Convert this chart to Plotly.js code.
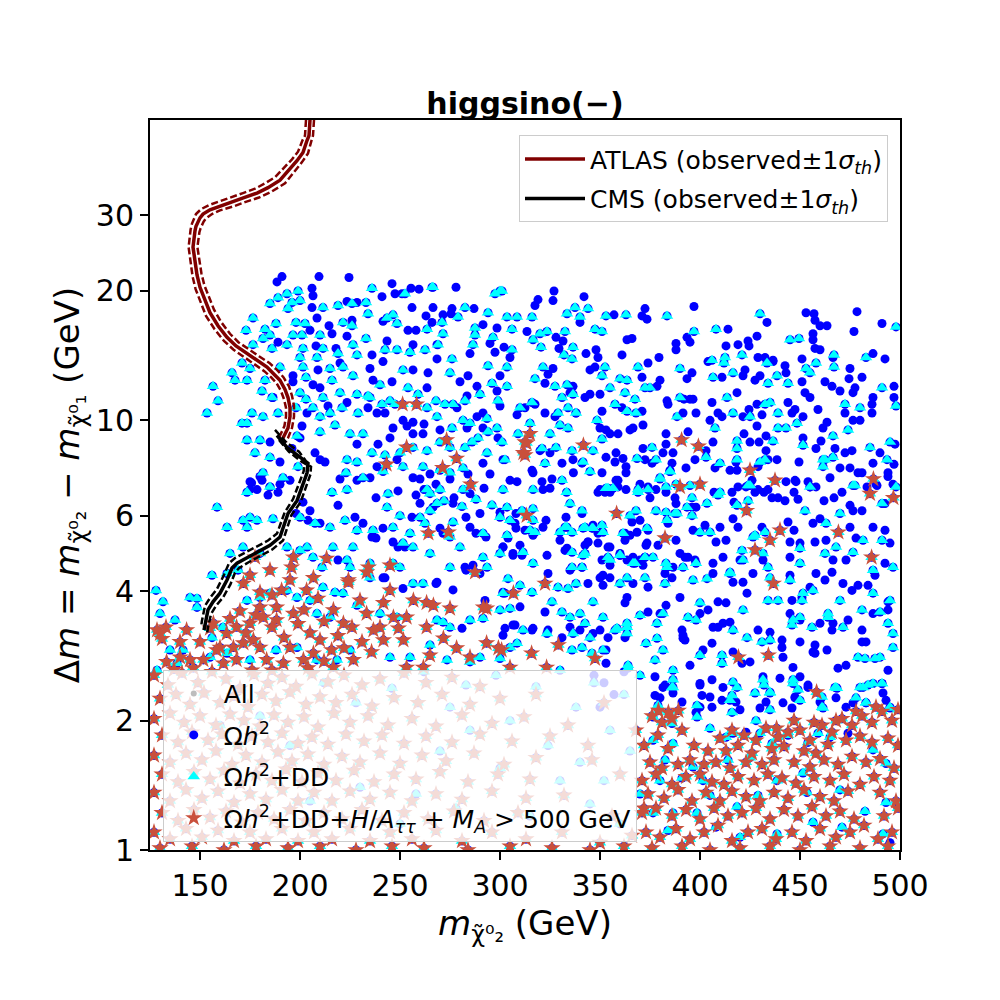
<!DOCTYPE html>
<html>
<head>
<meta charset="utf-8">
<script src="https://cdn.plot.ly/plotly-3.0.1.min.js"></script>
<style>html,body{margin:0;padding:0;background:#fff}#chart{width:1000px;height:1000px}</style>
</head>
<body>
<div id="chart"></div>
<script>
// ---------- data (x = m_chi2 [GeV], y = Delta m [GeV]) ----------
const xTicks = [150, 200, 250, 300, 350, 400, 450, 500];
const yTicks = [1, 2, 4, 6, 10, 20, 30];

// Omega h^2 only (blue dots)
const blueOnly = [
[191,21.6],[188.5,21.0],[209.5,21.6],[224.5,21.5],[206,20.3],[206.5,19.5],[246,20.8],[247.5,19.7],[255.5,20.3],[259.5,20.2],[278,20.4],[241,19.4],[251,19.7],[206,18.3],[223.5,18.9],[228.5,18.8],[256,18.3],[266.5,18.3],[276,18.2],[287,18.2],[271.5,17.6],[275.5,17.7],[263,17.5],[208.5,17.3],[214.5,16.6],[226,17.1],[241.5,17.0],[266,16.9],[291.5,16.7],[298.5,16.4],[254,16.2],[258,16.2],[216,15.9],[205,16.2],[223.5,15.7],[189,15.2],[218,14.7],[208,14.9],[243.5,15.3],[256.5,15.0],[268.5,15.0],[295,15.1],[302,14.8],[305,14.0],[297.5,14.4],[236,14.2],[241.5,13.7],[268.5,13.9],[285,14.3],[220,13.6],[235,13.2],[209,13.1],[256.5,13.1],[264,12.9],[284,12.7],[300,12.7],[196.5,12.7],[196.5,12.3],[236.5,12.4],[246,12.3],[280,12.3],[288.5,12.0],[206.5,12.1],[210,11.9],[263.5,11.9],[298.5,11.7],[186.5,11.3],[283.5,11.4],[300,10.8],[214,10.8],[223.5,11.0],[234,10.7],[242.5,10.4],[251.5,10.0],[256.5,9.9],[278.5,10.7],[288.5,10.2],[291.5,10.4],[308.5,10.3],[291.5,9.6],[201,9.7],[203.5,10.4],[200,9.1],[185,8.9],[246.5,9.6],[253.5,9.7],[262,9.8],[238.5,10.4],[239,8.8],[245,9.1],[256.5,9.3],[261.5,9.3],[270,9.5],[283.5,9.6],[299,9.1],[228.5,8.8],[207.5,8.4],[210,8.1],[212.5,8.0],[175,7.2],[181,7.25],[190,7.1],[195,7.25],[220,7.3],[228.5,7.25],[235,7.35],[256.5,7.35],[260,7.3],[265,7.5],[275,7.3],[284,7.5],[295,7.5],[305,7.25],[308.5,7.2],[248.5,8.1],[238.5,7.8],[291.5,7.95],[301.5,8.1],[175,6.9],[178.5,6.9],[189,6.8],
[175.8,7.15],[180,7.4],[185,7.0],[184,6.7],[196,8.6],[190,8.0],
[262,6.9],[268,7.1],[277,6.6],[285,6.75],[292,6.95],[258,6.7],[249,6.85],[238,6.6],
[327,20.0],[326.5,19.0],[319,19.1],[317.5,18.5],[342,19.4],[397,18.4],[372.5,18.2],[371,17.5],[373.5,17.2],[357,17.6],[340,16.9],[453,17.8],[457,17.7],[478.5,17.9],[457.5,17.1],[460,16.6],[463.5,16.6],[491,16.8],[433.5,16.9],[414,16.3],[477,16.1],[456.5,15.9],[456.5,15.4],[428.5,15.7],[424,15.3],[388,15.1],[393.5,15.6],[395,15.2],[388,14.6],[419,15.0],[424.5,14.9],[413,14.9],[457.5,14.7],[460,14.6],[486.5,14.3],[492.5,13.9],[466.5,14.0],[451,13.9],[432.5,14.0],[429,14.0],[436.5,13.7],[379.5,14.0],[361,14.2],[363.5,15.4],[366,15.5],[343,14.3],[348,14.6],[349,14.0],[328,15.6],[331.5,15.3],[329.5,14.7],[313.5,16.1],[345,13.1],[347.5,13.3],[326.5,13.2],[324,12.8],[322.5,12.2],[374,13.6],[371,12.6],[380,12.4],[378.5,12.0],[393.5,12.5],[396,12.9],[404,13.7],[411,12.6],[422.5,13.1],[421.5,12.7],[427.5,12.4],[430,12.7],[436.5,13.8],[442.5,13.4],[443,12.9],[451,12.3],[452.5,11.6],[462.5,12.3],[466,12.0],[470,11.7],[475,13.2],[474.5,12.5],[481,12.6],[477.5,11.9],[476.5,11.6],[486.5,11.3],[497,12.0],[497,11.3],[336.5,12.0],[342.5,11.3],[345,11.5],[350,11.5],[335,11.6],[312.5,10.7],[317.5,10.9],[322.5,10.4],[327.5,10.2],[338,10.4],[351,10.5],[350,9.6],[353,9.5],[355,9.3],[359,9.3],[361,10.7],[371,10.5],[371.5,9.75],[366.5,9.6],[383.5,11.1],[384,10.9],[392,11.2],[395,11.2],[396.5,11.2],[391.5,10.4],[398,10.4],[406,11.0],[418.5,11.6],[409,10.4],[405,10.0],[411,10.2],[421.5,10.2],[424.5,10.6],[428.5,10.9],[428.5,9.7],[431,10.3],[444,11.0],[446,10.4],[447.5,10.6],[451.5,10.2],[459,10.6],[455,11.3],[463.5,9.9],[461.5,9.6],[472.5,10.4],[476.5,10.0],[480,10.0],[486,10.9],[486,10.4],[490,8.4],[497.5,8.8],[383,9.3],[383,8.8],[394,9.4],[406.5,8.9],[403,8.5],[386.5,8.4],[381.5,8.4],[365,9.5],[371.5,8.6],[372.5,8.1],[376,7.95],[358,8.4],[361.5,8.15],[363,7.8],[363,7.55],[357.5,8.0],[353,8.2],[351,7.55],[355,6.8],[350,6.9],[359,7.25],[341,7.95],[336.5,8.1],[331,7.95],[325,8.4],[320,8.5],[316,7.65],[316.5,7.55],[326,7.3],[321,7.2],[321.5,6.9],[325,6.95],[386,7.95],[385,7.65],[393,7.75],[397.5,8.1],[407.5,7.75],[415,7.65],[418,8.0],[422,9.3],[425,8.9],[429.5,8.9],[433,9.2],[433,8.5],[438.5,8.1],[434,8.1],[429,7.8],[418.5,7.65],[426,7.25],[429,6.9],[434,6.9],[443,7.2],[447.5,7.25],[449.5,8.0],[451.5,9.1],[458,8.6],[460.5,8.95],[467.5,8.6],[472.5,8.4],[476,8.5],[486.5,7.95],[470,7.75],[475,7.75],[481,7.55],[465,7.35],[494,7.55],[488.5,7.05],[483.5,7.0],[496.5,7.1],[455,7.0],
[336.7,7.55],[349,6.8],[352.5,6.8],[358,7.25],[359,7.0],[363,6.9],[370,7.1],[374,7.0],[375,6.6],[378,6.9],[383,6.8],[387.5,6.6],[388,6.4],[396,6.28],[398,6.28],[407,6.8],[416,6.8],[417,6.45],[419,7.0],[423,7.0],[427.5,6.8],[432,6.8],[436,6.6],[439,6.6],[442.5,6.5],[447,6.8],[448,7.2],[449,6.55],[454,7.2],[458,7.0],[462,6.5],[467,6.6],[471,6.8],[475,6.34],[476.5,6.16],[481,6.16],[479,7.55],[488,7.1],[494,7.4],[497,7.9],[492.5,6.4],[333,5.95],[341,6.07],[346.5,5.7],[349,5.46],[362.5,5.46],[366,5.8],[370,5.85],[374,5.55],[384,5.76],[388,5.26],[396.5,5.55],[402.5,5.7],[410,5.64],[416.5,5.9],[419,5.64],[408,5.21],[413,5.26],[431,5.64],[444,5.8],[447,5.55],[445,5.21],[456.5,5.76],[460,5.9],[463,5.26],[457.5,5.21],[475,5.64],[478,5.32],[486.5,5.64],[492.5,5.55],[495,5.18],[332.5,4.98],[344,5.21],[354,5.07],[360,4.9],[373,5.12],[370,4.73],[392.5,4.8],[397.5,4.73],[406.5,4.65],[411.5,4.8],[420,4.73],[431.5,4.73],[445,4.8],[450,5.18],[466.5,4.73],[473,4.73],[492.5,4.65],[335,4.48],[351.5,4.36],[406.5,4.4],[445,4.36],[458,4.4],
[323,5.85],[307.5,5.76],[312.5,5.55],[316.5,5.4],[321.5,5.64],[310,5.12],[301.5,5.07],[306.5,4.85],[311,4.85],[323.5,4.85],[330,5.26],[333.5,5.04],[342.5,5.12],[344,5.21],[349,5.18],[341,4.55],[344,4.17],[351,4.73],[355,4.6],[363.5,4.73],[366.5,4.8],[372.5,4.8],[371.5,4.6],[355,5.07],[362.5,5.26],[365,5.4],[368.5,5.49],[373.5,5.18],[379,5.12],[386.5,4.55],[382.5,4.4],[386,4.3],[390,4.9],[394,4.8],[390,3.87],[355,4.3],[350,4.3],[351.5,4.13],[374,4.09],[366.5,4.17],[363.5,3.87],[362.5,3.76],[374,3.58],[380,3.55],[383,3.71],[391.5,3.16],[392.5,3.08],[400,3.55],[404,3.62],[406.5,3.3],[409,3.3],[411.5,3.37],[415,3.39],[409,3.78],[413,3.76],[416.5,4.2],[421.5,4.2],[426.5,4.4],[423.5,3.96],[429,3.25],[435,3.21],[441,3.08],[441,2.96],[441.5,2.81],[450,3.05],[456.5,2.89],[457.5,3.0],[463.5,2.92],[466.5,3.37],[460,3.37],[466,3.25],[445,3.55],[450,3.43],[446,3.81],[451,3.87],[455,4.09],[462.5,4.25],[466,4.43],[471.5,4.17],[476,4.02],[479,4.13],[484,4.13],[487.5,4.36],[494,3.78],[494,3.62],[486.5,3.55],[481,3.25],[481,3.05],[483,3.05],[474,3.43],[469,2.65],[473,2.69],[494,2.62],[491.5,2.32],[493,2.23],[473,2.15],[476.5,2.2],[457.5,2.87],[446.5,2.66],[450,2.53],[447.5,2.27],[454,2.39],[446,2.14],[440,2.51],[441.5,2.2],[431.5,2.53],[430,2.14],[421,2.72],[425,2.74],[416.5,2.89],[411.5,2.39],[406,2.49],[405,2.27],[401,2.29],[400,2.44],[395,2.69],[400,2.15],[406,2.15],[391,3.25],[401.5,2.92],[406,3.03],[386.5,2.32],[381.5,2.39],[380,2.26],[377.5,2.29],[377.5,2.53],[391.5,3.11],[362.5,3.12],[354,3.12],[350,3.25],[346.5,3.19],[340,3.25],[335,3.3],[331,3.12],[324,3.25],[316,3.25],[307.5,3.34],[302.5,3.28],[301.5,3.16],[324,4.4],[353,2.92],[353,2.72],
[382.5,2.42],[391,2.21],[400,2.42],[411,2.23],[418,2.21],[420,2.12],[433,2.21],[447.5,2.26],[454,2.42],[460,2.21],[468,2.26],[468,2.0],[474,1.87],[423,1.88],[442.5,1.74],[495,1.04],[398,2.09],
[201.5,6.45],[204,5.85],[198,6.07],[205,6.16],[210,5.76],[219,6.34],[227.5,5.95],[231.5,5.76],[241.5,5.61],[236,5.35],[238,5.32],[246.5,5.21],[249,5.07],[252.5,5.07],[242.5,4.3],[251.5,4.06],[268,4.17],[283,4.48],[286.5,4.6],[290,4.4],[270,5.61],[271.5,5.46],[285,5.64],[288,5.46],[293,5.35],[283,5.95],[290,6.07],[300,6.11],[308,6.07],[301.5,5.07],[306.5,4.9],[304,5.32],[308,5.61],[302.5,3.96],[306.5,3.34],[316.5,3.28],[322.5,3.58],[266.5,6.28],[260,6.41],[276.5,6.41],[256,5.95],
[219,4.73],[241.5,4.3],[268.5,4.2],[276.5,4.03],[282.5,4.55],[301.5,3.98],[310,3.68],[281,3.28],[292.5,3.81],
[347,2.55],[352,2.45],[357,2.3],[362,2.6],[350,2.15]
];

// Omega h^2 + DD (cyan triangles)
const ddPoints = [
[199,20.0],[236,20.3],[266,20.4],[300,20.0],
[266.5,20.4],[252.5,19.7],[193.5,19.7],[189,19.3],[185,18.7],[196,18.8],[200,19.0],[194,18.2],[211.5,18.3],[219,18.5],[226,18.7],[233,18.8],[234,17.7],[243.5,17.3],[246.5,17.6],[282.5,18.3],[294,17.8],[297.5,19.7],[301,20.0],[303.5,17.4],[308.5,17.4],[279,17.4],[271,16.9],[287.5,16.4],[306,16.3],[176.5,17.3],[173,16.2],[182.5,16.3],[188,16.8],[198,16.9],[202.5,16.8],[221.5,16.9],[226,16.6],[248.5,16.8],[263.5,16.3],[181.5,15.5],[185,15.8],[196.5,15.8],[201,15.8],[210,15.8],[271.5,15.9],[287.5,15.8],[296.5,15.6],[233,15.5],[176.5,15.0],[186,14.7],[193.5,15.0],[201.5,14.7],[211.5,14.7],[226.5,15.0],[228.5,14.2],[242.5,14.6],[248.5,14.6],[255,14.4],[262.5,14.6],[269,15.0],[286.5,15.0],[306,14.6],[200,14.0],[208.5,14.0],[219,14.3],[276,13.9],[294,13.4],[303.5,13.3],[171,13.6],[175,13.2],[166,12.9],[190,13.3],[201.5,13.3],[215,13.2],[221.5,13.3],[226.5,12.7],[167.5,12.4],[173.5,12.4],[156.5,12.0],[182.5,12.4],[203,12.6],[216,12.4],[240,12.1],[251.5,13.1],[275,12.9],[290,11.5],[296,12.2],[303.5,12.0],[159,11.1],[153.5,10.4],[181,11.7],[186,11.3],[200,11.6],[203,11.2],[211.5,11.3],[220,11.6],[228.5,11.5],[234,11.4],[245,11.1],[254,11.9],[259,11.5],[268,11.1],[272.5,10.9],[276.5,10.9],[282.5,11.1],[299,11.1],[310,10.7],[176,10.4],[181.5,10.2],[189,10.4],[171,9.85],[173.5,9.85],[198,10.7],[206.5,10.7],[210,10.2],[215,10.4],[221,10.7],[229,10.4],[235,11.3],[241,10.9],[247.5,10.9],[263.5,10.7],[268.5,10.2],[276,9.6],[281.5,10.0],[285,9.85],[293.5,10.1],[298.5,9.6],[309,9.3],[180,9.0],[173.5,9.0],[177.5,8.4],[185,8.2],[198.5,9.2],[210,9.4],[217.5,9.75],[225,9.3],[231.5,9.3],[223.5,8.1],[228.5,8.0],[236,8.4],[242.5,8.3],[250,8.4],[256.5,8.65],[263.5,8.5],[270,8.9],[275,8.65],[282.5,8.65],[289,9.1],[294,9.4],[301,8.9],[302.5,8.1],[293.5,8.4],[286,8.9],[281.5,7.75],[275,7.55],[270,7.65],[261.5,7.8],[251.5,7.8],[241.5,7.6],[231.5,7.35],[223,7.55],[216,6.8],[223.5,6.9],[181.5,7.55],[173.5,6.8],[185,7.0],[191.5,7.35],[199,7.8],[263.5,6.9],[270,6.9],[281.5,6.9],[301.5,6.9],
[272,6.5],[281,6.3],[288,6.55],[296,6.35],[265,6.75],[244,6.75],
[316,17.4],[333.5,17.7],[337.5,18.3],[344,18.2],[340,17.4],[353,17.5],[363,17.6],[383.5,17.5],[430,17.7],[498,16.5],[320,15.9],[323.5,16.1],[332.5,16.1],[347.5,16.3],[351,16.1],[397,16.1],[408,16.3],[445,15.4],[449.5,15.5],[316.5,15.4],[320.5,14.8],[336.5,14.8],[332,14.2],[336,13.9],[321.5,13.3],[352.5,13.3],[351,12.7],[369,13.3],[390,13.2],[406,13.8],[412.5,14.0],[421,14.2],[412,13.6],[416.5,12.9],[433.5,13.6],[438.5,12.7],[453,13.2],[458,13.6],[467,14.2],[467,13.3],[483,14.0],[491,11.9],[498,10.8],[317.5,12.5],[327.5,12.0],[333.5,12.1],[336.5,11.5],[331,11.3],[355,11.9],[360,12.5],[363.5,12.4],[362.5,11.6],[367.5,11.2],[372.5,11.9],[375,11.9],[406.5,12.6],[434,12.2],[444,12.2],[390,11.3],[413.5,11.3],[432.5,10.9],[435,11.0],[472.5,10.9],[480,10.7],[316,11.0],[329,10.4],[334,10.7],[338,10.4],[357.5,10.9],[363.5,10.5],[368,10.4],[388.5,10.2],[416.5,10.4],[425,10.2],[439,10.4],[448.5,9.85],[348.5,10.0],[315,9.85],[325,9.3],[330,9.75],[334,9.6],[328,8.65],[336,8.5],[321,8.6],[351,9.05],[346.5,8.5],[407.5,9.6],[418.5,8.95],[418.5,8.6],[436.5,8.95],[439,9.6],[443,9.6],[466.5,9.2],[474,9.5],[485,8.65],[495,8.9],[451.5,8.75],[376,8.65],[403,8.2],[410,7.95],[418.5,8.1],[430,8.0],[432.5,8.1],[378,8.1],[385,7.6],[380,7.35],[368.5,8.15],[341.5,8.0],[322.5,7.95],[345,7.6],[331,7.25],[316.5,6.9],[353,6.95],[369,6.9],[374,6.9],[383,7.0],[388,7.1],[395,7.05],[410,6.8],[425,7.05],[455,7.0],[462.5,8.1],[466.5,8.2],[476.5,7.05],[493.5,8.1],[498,7.0],[455,12.9],[461.5,8.1],
[333.3,6.8],[335,6.4],[341,6.16],[354,6.95],[356.5,6.95],[369,6.8],[385,7.6],[380,7.3],[396,6.6],[396,6.0],[409,6.7],[424,7.05],[424,6.5],[378,6.16],[383,6.11],[387.5,6.07],[368,6.16],[365,6.0],[332.5,5.64],[351,5.7],[342.5,5.64],[346.5,5.61],[400,5.49],[405,5.49],[427.5,5.4],[432.5,5.49],[450,5.04],[452.5,6.16],[463,5.76],[470,6.07],[477.5,7.05],[491,6.4],[461.5,7.8],[481.5,5.26],[491,5.26],[476.5,4.93],[468,5.07],[421,4.98],[355,4.73],[360,4.85],[372.5,4.8],[376.5,4.8],[336,4.93],[342.5,4.9],[336,4.55],[341,4.55],[367.5,4.65],[383,4.65],[398,4.65],[415,4.43],[434,4.55],[450,4.65],[462.5,4.9],[496.5,4.55],[486.5,4.48],
[310,4.13],[316,3.98],[329,4.09],[334,4.06],[338,4.17],[326,3.78],[331,3.58],[335,3.48],[340,3.55],[346.5,3.78],[305,3.65],[311.5,3.25],[323.5,3.19],[336.5,3.19],[342.5,3.37],[351.5,3.48],[357.5,3.25],[363.5,3.3],[370,3.52],[381.5,3.55],[378.5,3.37],[304,4.28],[301.5,3.96],[341.5,4.85],[354,4.8],[360,4.85],[346,5.61],[351.5,5.49],[341.5,5.61],[336,5.49],[333.5,5.64],[330,5.49],[317.5,5.49],[303.5,5.4],[311,6.16],[316.5,6.23],[303.5,6.28],[366.5,4.65],[372.5,4.3],[383.5,4.55],[391.5,4.55],[396.5,4.25],[400,3.76],[382.5,4.17],[360,4.17],[363.5,4.3],[373.5,5.61],[361.5,5.46],[383.5,5.85],[388.5,6.07],[393.5,6.28],[403.5,6.41],[418.5,6.34],[426.5,5.35],[431.5,4.9],[421.5,4.73],[415,4.4],[403.5,4.28],[421.5,3.62],[434,3.81],[439,3.81],[435,4.3],[445,4.25],[451,3.81],[451.5,3.96],[456.5,4.02],[464,3.48],[470,3.81],[481,3.62],[486.5,3.96],[490,3.58],[495,3.81],[494,3.37],[496.5,3.19],[496.5,2.96],[471.5,3.3],[456,3.3],[446,3.34],[435,3.08],[446.5,3.43],[479,2.81],[482.5,2.79],[487.5,2.79],[491,2.44],[484,2.42],[480,2.39],[483,2.2],[495,2.15],[461,2.27],[467.5,2.39],[446.5,2.44],[431.5,2.49],[435,2.32],[418.5,2.39],[415,2.23],[411,2.84],[400,2.84],[386.5,2.62],[381.5,2.92],[378.5,3.11],[373,3.03],[363.5,3.19],[398,3.43],[394,3.48],[363.5,3.37],[358.5,3.28],[345,3.12],[336,2.92],[341,2.96],[346,2.87],[351.5,2.92],[364,2.65],[377.5,2.77],[386.5,2.39],[416.5,3.25],[423.5,3.12],[431,3.05],[450,3.48],[464,3.55],[490,2.81],
[158.5,6.28],[171.5,5.85],[175,5.95],[178.5,5.85],[173.5,5.64],[163.5,5.64],[186.5,5.9],[200,5.95],[207.5,5.76],[215,5.64],[222.5,5.85],[228.5,5.55],[236.5,5.55],[246.5,5.64],[250,6.0],[243.5,6.28],[260,5.95],[265,6.16],[268.5,6.41],[262.5,5.76],[255,5.46],[251.5,5.18],[256.5,5.07],[265,4.9],[276.5,5.8],[275,5.35],[280,5.07],[291.5,5.46],[300,5.95],[305,5.85],[315,5.55],[316.5,5.85],[291.5,4.8],[300,4.9],[311.5,4.93],[316.5,4.65],[246.5,4.65],[235,4.65],[226.5,5.07],[223.5,4.73],[216.5,5.07],[203.5,5.07],[206.5,4.8],[200,4.98],[193.5,5.07],[180,4.9],[171.5,5.07],[165,4.9],[128.5,2.62],[138.5,2.72],[146.5,2.66],
[128,4.02],[145,3.87],[148.5,3.85],[131.5,3.78],[130,3.55],[137.5,3.43],[148.5,3.67],[156,4.36],[163.5,4.4],[169,4.48],[211,4.55],[225,4.55],[235,4.3],[250,4.55],[256.5,4.17],[261.5,4.17],[275,4.55],[293.5,4.55],[173.5,3.81],[180,3.87],[185,3.96],[193.5,4.02],[198.5,3.87],[205,3.81],[211.5,4.09],[217.5,3.98],[221.5,3.96],[208.5,3.55],[215,3.48],[228.5,3.71],[240,3.55],[248.5,3.48],[268.5,3.43],[271.5,3.39],[275,3.3],[285,3.43],[291.5,3.46],[300,3.62],[308.5,3.03],[305,2.96],[300,2.79],[290,2.81],[285,2.74],[273.5,2.77],[265,3.0],[255,2.81],[245,2.81],[225,2.92],[218.5,2.77],[208.5,2.77],[188,2.92],[198.5,2.96],[175,2.77],[163.5,2.87],[141.5,2.92],[135,2.92],[161.5,3.3],[156,3.12],[155,2.81],
[386,2.39],[398.5,2.17],[398.5,2.04],[416,2.29],[416,2.09],[427.5,2.32],[428,2.0],[432,2.42],[435,2.12],[436,1.77],[449,2.36],[450,2.23],[461,2.15],[468,2.39],[478,2.26],[483,2.2],[486.5,2.44],[491,2.44],[495,2.14],[376.5,2.04],[386,1.97],[405,1.92],[413,1.83],[416.5,1.87],[430,1.87],[444,1.85],[454,1.78],[459,1.87],[465,1.83],[376.5,1.80],[386.5,1.77],[396.5,1.56],[380,1.45],[391,1.47],[401.5,1.45],[414,1.62],[425,1.64],[438.5,1.45],[451.5,1.51],[470,1.38],[493,1.29],[482.5,1.23],[493,1.59],[486.5,1.71],[405,1.34],[418.5,1.26],[429,1.34],[386.5,1.22],[398.5,1.22],[384,1.11],[408,1.13],[420,1.07],[438.5,1.09],[456.5,1.16],[471,1.13],[491.5,1.09],[453.5,1.36],[376.5,1.22],
[364,2.69],[411,2.72],[416.5,2.46],[435,2.33],[446.5,2.49],[461.5,2.14],[468.5,2.38],[481.5,2.39],[386.5,2.49],[379,2.17],[382.5,1.62],
[212,2.45],[228,2.2],[246,2.38],[262,2.6],[275,2.15],[283,2.42],[298,2.55],[305,2.0],[318,2.4],[330,2.62],[338,2.15],[347,2.45],[355,1.9],[362,2.3],[370,2.55],[324,1.75],[340,1.6],[352,1.45],[365,1.7],[300,1.55],[285,1.9],[270,1.7],[258,1.35],[278,1.25],[315,1.2],[345,1.28],[360,1.15],[195,1.75],[180,2.05],[250,1.15],[230,1.4],[205,1.3],[160,1.95],[370,1.35],[330,1.45]
];

// Omega h^2 + DD + H/A_tautau + M_A > 500 GeV (stars)
const starPoints = [
[251.3,10.9],[258.3,10.9],[253.3,8.65],[243.3,7.9],[273.3,9.0],[278.3,8.15],[271.3,7.75],[285.3,7.1],[312.5,8.9],[312.5,8.3],[315,9.3],[313.3,8.85],[311.7,8.4],[313.3,6.0],[264.2,5.46],[274.2,5.49],[287.5,4.43],[245,4.6],[233.3,4.43],[224.2,4.2],[213.3,4.77],[196.7,4.8],[177.5,4.8],[306.7,3.96],[293.3,3.65],[322.5,4.17],
[341.7,8.75],[390.8,9.0],[399.2,8.7],[390,7.0],[400,7.1],[425,7.65],[437.5,7.25],[423.3,6.16],[486.7,7.3],[485,6.75],[496.7,6.6],[358.3,6.07],[382.5,5.32],[440,5.55],[435,5.26],[427.5,4.99],[469.2,5.49],[485.8,4.8],[436.7,4.17],[329.2,3.0],[315.8,2.87],[347.5,2.79],[323.3,2.66],[419.2,2.81],[434.2,2.84],[300.8,2.92],[458.3,2.33],[379.2,2.11],[384.2,2.09],[389.2,2.11],[438.3,1.92],[128.5,3.25],[131,3.1],[133,3.3],
[171.7,4.17],[175,4.36],[180,3.98],[185,4.48],[190.8,4.02],[195,4.25],[195.8,4.55],[203.3,4.02],[206.7,4.3],[224.2,4.25],[216.7,3.62],[230,3.81],[234.2,4.55],[241.7,3.76],[245,4.02],[233.3,3.55],[221.7,3.37],[246.7,3.48],[256.7,3.81],[253.3,3.48],[263.3,3.76],[266.7,3.71],[275,3.65],[271.7,3.11],[263.3,3.3],[249.2,3.28],[251.7,3.08],[240,3.3],[236.7,3.25],[241.7,3.08],[235.8,2.89],[265,2.84],[278.3,2.95],[291.7,3.67],[293.3,3.03],[299.2,2.95],[285,2.81],[305,2.66],[210,3.08],[215.8,2.92],[206.7,2.87],[195,2.96],[201.7,2.77],[196.7,3.55],[188.3,3.67],[180,3.67],[181.7,3.48],[188.3,3.43],[175,3.37],[168.3,3.3],[163.3,3.19],[176.7,3.08],[180,2.96],[171.7,3.03],[166.7,2.96],[160,2.96],[158.3,2.92],[168.3,2.77],[161.7,2.72],[151.7,2.77],[145,2.77],[140,2.81],[133.3,2.74],[130,3.19],[143.3,3.25],[156.7,3.37],[155,3.28],[191.7,2.72],[183.3,2.77],[226.7,2.77],[216.7,2.66],[253.3,2.66],[261.7,2.66],[146.7,2.65],
[173,3.2],[178,3.52],[186,3.3],[192,3.12],[199,3.36],[205,3.2],[212,3.4],[219,3.15],[226,3.3],[231,3.05],[222,2.95],[212,2.75],[204,2.65],[186,2.62],[176,2.62],[202,3.62],[209,3.85],[186,3.92],[170,3.6],[165,3.45],[150,3.05],[140,3.05],[137,2.63],
[127,2.55],[134,2.42],[141,2.58],[149,2.45],[156,2.6],[163,2.5],[170,2.38],[177,2.56],[184,2.44],[191,2.52],[198,2.4],[206,2.57],[214,2.46],[222,2.55],[231,2.42],[240,2.5],[252,2.58],[263,2.45],[276,2.52],[290,2.4],
[130,2.25],[138,2.3],[145,2.18],[152,2.32],[160,2.2],[167,2.28],[174,2.15],[181,2.3],[188,2.22],[195,2.33],[203,2.18],[210,2.27],[218,2.2],[226,2.3],[236,2.16],[247,2.26],[259,2.2],[271,2.3],[285,2.18],[300,2.25],[318,2.3],[352,2.2],
[127,2.02],[135,2.08],[142,1.98],[150,2.05],[158,1.95],[165,2.07],[172,2.0],[180,1.94],[187,2.06],[194,1.98],[202,2.04],[209,1.93],[217,2.08],[225,1.98],[234,2.05],[244,1.95],[256,2.02],[268,1.94],[281,2.06],[296,1.97],[312,2.04],[334,1.95],[368,1.9],
[131,1.85],[139,1.78],[146,1.88],[154,1.8],[161,1.86],[169,1.76],[176,1.84],[184,1.78],[191,1.87],[199,1.77],[206,1.83],[214,1.76],[223,1.86],[232,1.79],[241,1.85],[252,1.77],[263,1.84],[276,1.78],[290,1.86],[306,1.79],[325,1.84],[344,1.75],
[127,1.66],[135,1.6],[143,1.68],[151,1.62],[158,1.7],[166,1.58],[173,1.66],[181,1.6],[189,1.69],[196,1.61],[204,1.67],[212,1.58],[221,1.65],[230,1.6],[240,1.68],[250,1.59],[261,1.66],[273,1.61],[287,1.68],[302,1.58],[318,1.64],[346,1.62],
[131,1.5],[139,1.44],[147,1.52],[155,1.46],[162,1.53],[170,1.43],[178,1.5],[186,1.45],[193,1.54],[201,1.44],[209,1.51],[218,1.45],[227,1.53],[237,1.44],[247,1.5],[258,1.46],[270,1.52],[284,1.44],[299,1.5],[315,1.46],[360,1.5],
[127,1.36],[135,1.3],[143,1.38],[151,1.32],[159,1.37],[167,1.29],[175,1.35],[183,1.31],[191,1.38],[199,1.3],[207,1.36],[216,1.3],[225,1.37],[235,1.31],[245,1.36],[256,1.3],[268,1.35],[281,1.31],[296,1.37],[313,1.32],[332,1.34],[372,1.25],
[131,1.22],[139,1.17],[147,1.24],[155,1.19],[163,1.23],[171,1.16],[179,1.22],[187,1.18],[195,1.24],[203,1.17],[212,1.22],[221,1.18],[231,1.24],[241,1.17],[252,1.22],[264,1.18],[277,1.23],[292,1.17],[309,1.22],[356,1.2],
[127,1.1],[135,1.06],[143,1.12],[151,1.07],[159,1.11],[167,1.05],[175,1.1],[183,1.06],[191,1.12],[199,1.05],[207,1.1],[216,1.06],[225,1.12],[235,1.05],[245,1.1],[256,1.06],[268,1.11],[281,1.05],[296,1.1],[313,1.06],[331,1.1],[350,1.04],[366,1.08],
[130,1.01],[146,1.02],[162,1.0],[178,1.02],[194,1.01],[210,1.02],[228,1.0],[246,1.02],[262,1.01],[284,1.0],[305,1.02],[326,1.01],[345,1.0],[362,1.02],
[376,2.05],[381,1.98],[386,2.02],[379,1.85],[391,1.9],[397,1.75],[404,1.7],[410,1.82],[416,1.9],[422,1.85],[428,1.8],[433,1.92],[439,1.83],[444,1.88],[450,1.9],[455,1.8],[461,1.95],[466,1.88],[471,2.02],[476,1.95],[481,2.05],[486,1.98],[491,2.1],[496,2.0],[499,2.12],[488,2.15],[478,2.1],[468,2.0],[457,1.98],[447,2.0],
[372,1.75],[384,1.72],[395,1.62],[402,1.58],[413,1.7],[419,1.75],[426,1.68],[436,1.72],[442,1.74],[452,1.7],[458,1.68],[464,1.76],[473,1.8],[480,1.84],[486,1.78],[494,1.82],[499,1.75],
[375,1.6],[381,1.55],[389,1.58],[408,1.6],[415,1.55],[423,1.6],[431,1.58],[437,1.62],[447,1.6],[455,1.56],[462,1.62],[469,1.58],[476,1.65],[483,1.6],[490,1.63],[497,1.55],
[371,1.45],[378,1.5],[386,1.42],[393,1.48],[400,1.5],[406,1.44],[412,1.42],[419,1.48],[427,1.45],[434,1.5],[441,1.47],[448,1.43],[457,1.48],[465,1.45],[472,1.5],[480,1.42],[487,1.48],[495,1.45],
[374,1.35],[382,1.32],[389,1.38],[396,1.3],[403,1.36],[410,1.3],[416,1.37],[423,1.33],[430,1.3],[437,1.36],[444,1.32],[452,1.38],[460,1.33],[467,1.3],[474,1.37],[490,1.36],[498,1.3],
[371,1.22],[378,1.25],[386,1.2],[393,1.24],[400,1.18],[407,1.25],[414,1.2],[421,1.22],[428,1.25],[435,1.18],[442,1.24],[449,1.2],[456,1.26],[463,1.2],[470,1.23],[477,1.18],[492,1.2],[499,1.25],
[373,1.1],[380,1.07],[388,1.12],[395,1.06],[402,1.1],[409,1.14],[416,1.05],[424,1.1],[431,1.12],[438,1.06],[446,1.1],[453,1.05],[460,1.12],[468,1.07],[475,1.1],[482,1.14],[489,1.06],[496,1.1],
[376,1.01],[391,1.02],[405,1.0],[420,1.01],[435,1.02],[450,1.0],[465,1.02],[480,1.01],[494,1.02]
];

// exclusion curves
const atlasObs = [[205,50],[204.5,46],[203.5,44.8],[201.5,42],[198.5,40.2],[194,38],[190,36.2],[184,34.8],[178.5,33.8],[172,33],[166.5,32.3],[160,31.6],[155,30.9],[151.5,30.2],[150,29.6],[148,28.3],[147.5,27.6],[146.5,25.3],[147.5,23.2],[148.5,21.8],[150,20.4],[152.5,19],[155,17.8],[159,16.6],[163.5,15.6],[168,14.9],[173.5,14.3],[178.5,13.8],[183.5,13.3],[187,12.8],[190,12.4],[192.5,11.8],[194,11.3],[195,10.7],[195,10.2],[194,9.6],[192,9.2],[191,9.0]];
const atlasUp = [[203,50],[202.5,46],[201.3,44.9],[199,42.2],[196,40.5],[191.5,38.4],[187.5,36.8],[182.5,35.6],[177.5,34.6],[171.5,33.8],[166,33.1],[160,32.4],[154.5,31.7],[150.5,31],[148,30.2],[146,28.7],[145.3,27.8],[144.3,25.3],[145.3,23],[146.3,21.6],[147.8,20.2],[150.5,18.7],[153,17.5],[157.3,16.3],[162,15.3],[166.8,14.6],[172.5,14],[177.5,13.5],[182.3,13],[185.5,12.6],[188.3,12.2],[190.5,11.7],[192,11.2],[193,10.7],[193,10.2],[192.2,9.7],[190.5,9.3],[189.5,9.1]];
const atlasDown = [[207,50],[206.5,46],[205.7,44.7],[204,41.8],[201,39.9],[196.5,37.6],[192.5,35.6],[185.5,34],[179.5,33],[172.5,32.2],[167,31.5],[160,30.8],[156,30.2],[153,29.5],[151.8,29],[150.3,28],[149.7,27.4],[148.7,25.3],[149.7,23.4],[150.7,22.0],[152.2,20.6],[154.5,19.3],[157,18.1],[160.7,16.9],[165,15.9],[169.2,15.2],[174.5,14.6],[179.5,14.1],[184.7,13.6],[188.5,13.1],[191.7,12.6],[194.5,12],[196,11.4],[197,10.8],[197,10.2],[196,9.6],[194,9.1],[193,8.9]];
const cmsObs = [[188.5,9.23],[193.5,8.65],[200,8.21],[204,7.94],[203.5,7.54],[201,6.99],[198.5,6.5],[194,6.07],[191.5,5.64],[190,5.35],[185,5.12],[178.5,4.93],[173.5,4.8],[168.5,4.65],[166,4.53],[163.5,4.25],[160,3.96],[156.5,3.78],[154,3.62],[152.5,3.37],[152,3.25]];
const cmsUp = [[187.5,9.5],[193,8.9],[199.5,8.45],[202.5,8.1],[201.8,7.6],[199.3,7.05],[196.5,6.55],[192.3,6.1],[189.8,5.7],[188.5,5.45],[184,5.25],[177.5,5.05],[172.5,4.92],[167.5,4.78],[164.5,4.65],[161.8,4.35],[158.5,4.05],[155,3.86],[152.5,3.7],[151,3.42],[150.5,3.3]];
const cmsDown = [[189.5,9.0],[194.5,8.45],[201,8.0],[205.5,7.8],[205.2,7.48],[202.7,6.93],[200.3,6.45],[195.7,6.02],[193.2,5.58],[191.5,5.25],[186,5.0],[179.5,4.82],[174.5,4.68],[169.5,4.53],[167.5,4.42],[165.2,4.15],[161.5,3.87],[158,3.7],[155.5,3.54],[154,3.3],[153.5,3.18]];

// ---------- build traces ----------
const xs = a => a.map(p => p[0]);
const ys = a => a.map(p => p[1]);
const allPts = blueOnly.concat(ddPoints, starPoints);
const ddAll = ddPoints.concat(starPoints);

const FONT = 'DejaVu Sans, Liberation Sans, sans-serif';
const DASH = {width: 2.5, dash: '7px,3px'};
const traces = [
  {x: xs(allPts), y: ys(allPts), type: 'scatter', mode: 'markers', name: 'All',
   marker: {color: '#bdbdbd', size: 6, symbol: 'circle'}, legend: 'legend2', legendgroup: 'g1'},
  {x: xs(allPts), y: ys(allPts), type: 'scatter', mode: 'markers', name: 'Ω<i>h</i><sup>2</sup>',
   marker: {color: '#0000ff', size: 9, symbol: 'circle'}, legend: 'legend2', legendgroup: 'g2'},
  {x: xs(ddAll), y: ys(ddAll), type: 'scatter', mode: 'markers', name: 'Ω<i>h</i><sup>2</sup>+DD',
   marker: {color: '#00ffff', size: 11, symbol: 'triangle-up'}, legend: 'legend2', legendgroup: 'g3'},
  {x: xs(starPoints), y: ys(starPoints), type: 'scatter', mode: 'markers',
   name: 'Ω<i>h</i><sup>2</sup>+DD+<i>H</i>/<i>A</i><sub><i>ττ</i></sub> + <i>M</i><sub><i>A</i></sub> > 500 GeV',
   marker: {color: '#c9503c', size: 13, symbol: 'star'}, legend: 'legend2', legendgroup: 'g4'},
  {x: xs(atlasObs), y: ys(atlasObs), type: 'scatter', mode: 'lines', name: 'ATLAS (observed±1<i>σ</i><sub><i>th</i></sub>)',
   line: {color: '#800000', width: 3.5}, legend: 'legend', legendgroup: 'a1'},
  {x: xs(atlasUp), y: ys(atlasUp), type: 'scatter', mode: 'lines', showlegend: false,
   line: Object.assign({color: '#800000'}, DASH)},
  {x: xs(atlasDown), y: ys(atlasDown), type: 'scatter', mode: 'lines', showlegend: false,
   line: Object.assign({color: '#800000'}, DASH)},
  {x: xs(cmsObs), y: ys(cmsObs), type: 'scatter', mode: 'lines', name: 'CMS (observed±1<i>σ</i><sub><i>th</i></sub>)',
   line: {color: '#000000', width: 3.5}, legend: 'legend', legendgroup: 'a2'},
  {x: xs(cmsUp), y: ys(cmsUp), type: 'scatter', mode: 'lines', showlegend: false,
   line: Object.assign({color: '#000000'}, DASH)},
  {x: xs(cmsDown), y: ys(cmsDown), type: 'scatter', mode: 'lines', showlegend: false,
   line: Object.assign({color: '#000000'}, DASH)}
];

const axisCommon = {
  showline: true, linecolor: '#000', linewidth: 2, mirror: true,
  ticks: 'outside', ticklen: 8, tickwidth: 2, tickcolor: '#000',
  showgrid: false, zeroline: false,
  tickfont: {family: FONT, size: 30, color: '#000'}
};

const layout = {
  width: 1000, height: 1000,
  paper_bgcolor: '#fff', plot_bgcolor: '#fff',
  margin: {l: 150, r: 100, t: 120, b: 150},
  font: {family: FONT, color: '#000'},
  title: {text: '<b>higgsino(−)</b>', font: {family: FONT, size: 30, color: '#000'},
          x: 0.525, xanchor: 'center', xref: 'container', y: 0.897, yanchor: 'middle', yref: 'container'},
  xaxis: Object.assign({}, axisCommon, {
    range: [125, 500], tickvals: xTicks, ticktext: xTicks.map(String),
    title: {text: '<i>m</i><sub>χ̃⁰₂</sub> (GeV)', font: {family: FONT, size: 34}, standoff: 6}
  }),
  yaxis: Object.assign({}, axisCommon, {
    type: 'log', range: [0, Math.log10(50)], tickvals: yTicks, ticktext: yTicks.map(String),
    title: {text: 'Δ<i>m</i> = <i>m</i><sub>χ̃⁰₂</sub> − <i>m</i><sub>χ̃⁰₁</sub> (GeV)', font: {family: FONT, size: 34}, standoff: 6}
  }),
  legend: {
    x: 0.984, xanchor: 'right', y: 0.979, yanchor: 'top',
    bgcolor: 'rgba(255,255,255,0.8)', bordercolor: '#cccccc', borderwidth: 1,
    font: {family: FONT, size: 25, color: '#000'}, tracegroupgap: 4, itemwidth: 60
  },
  legend2: {
    x: 0.017, xanchor: 'left', y: 0.247, yanchor: 'top',
    bgcolor: 'rgba(255,255,255,0.8)', bordercolor: '#cccccc', borderwidth: 1,
    font: {family: FONT, size: 25, color: '#000'}, tracegroupgap: 6, itemwidth: 50
  },
  showlegend: true
};

Plotly.newPlot('chart', traces, layout, {displayModeBar: false, staticPlot: true});
</script>
</body>
</html>
